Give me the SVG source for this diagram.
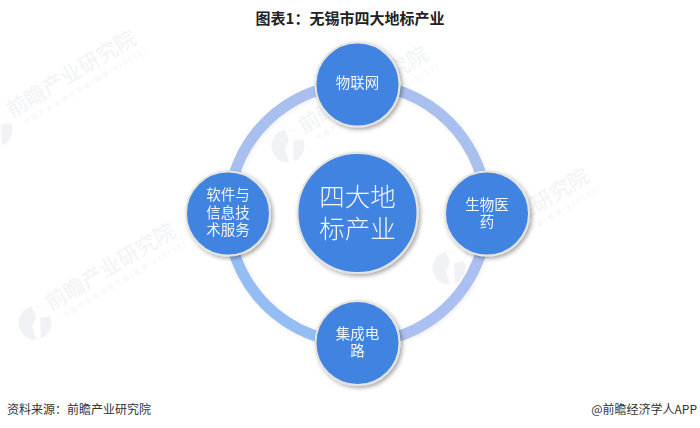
<svg xmlns="http://www.w3.org/2000/svg" xmlns:xlink="http://www.w3.org/1999/xlink" width="700" height="428" viewBox="0 0 700 428">
<style>
text{font-family:"Noto Sans CJK SC","Liberation Sans",sans-serif}
.n{fill:#4083e0;stroke:#e4e4e0;stroke-width:2;filter:url(#sh)}
.t{fill:#fff;font-size:14.5px;text-anchor:middle;opacity:.93}
.c{fill:#fff;font-size:25.5px;text-anchor:middle;font-weight:300;opacity:.93}
.a{fill:none;stroke-width:11}
.wm{fill:#f1f3f5;font-size:21px;font-weight:400}
.ws{fill:#f3f4f6;font-size:6.5px;letter-spacing:2.2px}
.f{fill:#333;font-size:12px}
</style>
<defs>
<filter id="sh" x="-20%" y="-20%" width="150%" height="150%"><feDropShadow dx="2" dy="2" stdDev="2.2" flood-color="#000" flood-opacity=".35"/></filter>
<filter id="sa" x="-10%" y="-10%" width="120%" height="120%"><feDropShadow dx="1" dy="1" stdDev="1" flood-color="#000" flood-opacity=".08"/></filter>
<g id="w">
<circle cx="0" cy="0" r="16.5" fill="#f0f2f5"/>
<path d="M-3 -17L1 -5L-3 3L1 17L6 16L5 -5L16 -7L12 -13Z" fill="#fff"/>
<g transform="rotate(-31)"><text class="wm" x="20" y="-2">前瞻产业研究院</text><text class="ws" x="28" y="11">中国产业咨询领导者(股票:839599)</text></g>
</g>
</defs>
<rect width="700" height="428" fill="#fff"/>
<g id="watermarks">
<use xlink:href="#w" href="#w" x="-4" y="130"/>
<use xlink:href="#w" href="#w" x="288" y="146"/>
<use xlink:href="#w" href="#w" x="449" y="268"/>
<use xlink:href="#w" href="#w" x="35" y="323"/>
</g>
<text x="350" y="24" text-anchor="middle" font-size="15" font-weight="700" fill="#222">图表1：无锡市四大地标产业</text>
<g id="connectors" filter="url(#sa)">
<path class="a" stroke="#a9c0ee" d="M265.9 122A129.5 129.5 0 0 1 357.5 84"/>
<path class="a" stroke="#a9c0ee" d="M357.5 84A129.5 129.5 0 0 1 487 213.5"/>
<path class="a" stroke="#abbff0" d="M487 213.5A129.5 129.5 0 0 1 357.5 343"/>
<path class="a" stroke="#94bdf3" d="M357.5 343A129.5 129.5 0 0 1 228 213.5"/>
<path class="a" stroke="#a9c0ee" d="M228 213.5A129.5 129.5 0 0 1 265.9 122"/>
</g>
<g id="center"><circle class="n" cx="357.5" cy="213" r="60"/><text class="c"><tspan x="357.5" y="206">四大地</tspan><tspan x="357.5" y="238">标产业</tspan></text></g>
<g id="top"><circle class="n" cx="357.5" cy="84.5" r="42"/><text class="t" x="357.5" y="88">物联网</text></g>
<g id="right"><circle class="n" cx="487" cy="213.5" r="42"/><text class="t"><tspan x="487" y="210">生物医</tspan><tspan x="487" y="227">药</tspan></text></g>
<g id="bottom"><circle class="n" cx="357.5" cy="343" r="42"/><text class="t"><tspan x="357.5" y="339">集成电</tspan><tspan x="357.5" y="356">路</tspan></text></g>
<g id="left"><circle class="n" cx="228" cy="213.5" r="42"/><text class="t"><tspan x="228" y="200">软件与</tspan><tspan x="228" y="218">信息技</tspan><tspan x="228" y="235">术服务</tspan></text></g>
<text class="f" x="7" y="414">资料来源：前瞻产业研究院</text>
<text class="f" x="697" y="414" text-anchor="end">@前瞻经济学人APP</text>
</svg>
